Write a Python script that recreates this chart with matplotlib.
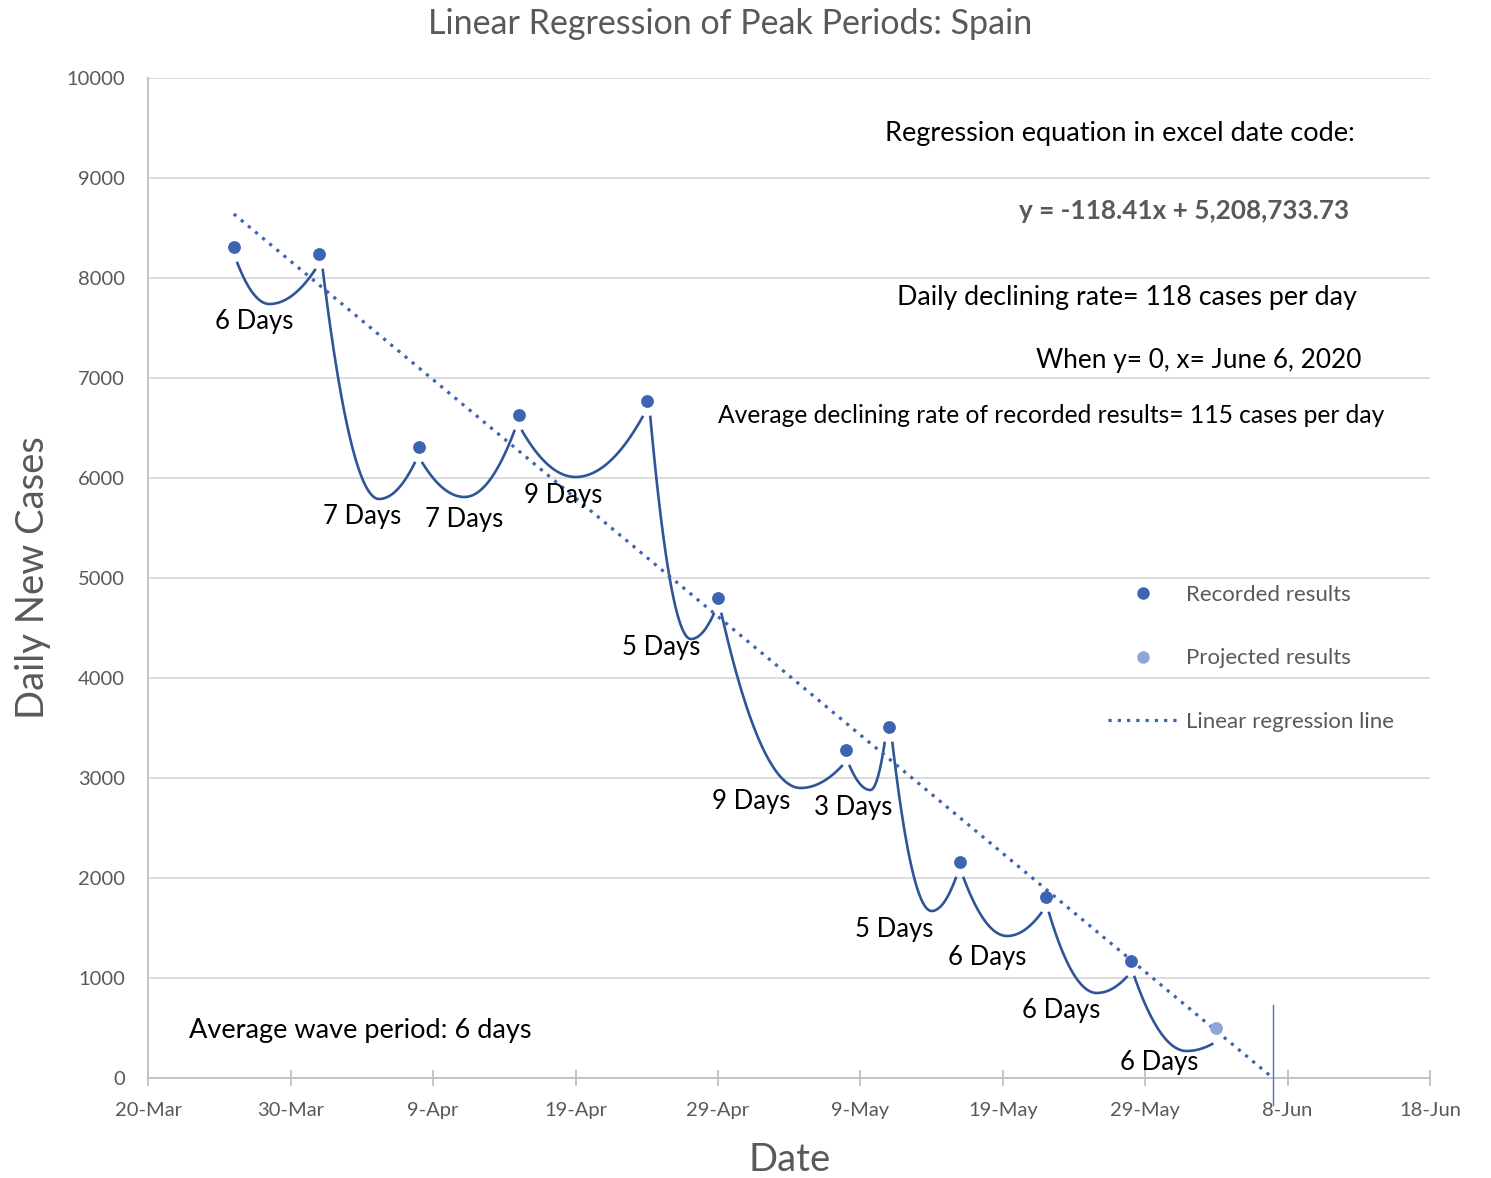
import matplotlib
matplotlib.use("Agg")
import matplotlib.pyplot as plt
import matplotlib.dates as mdates
from matplotlib.lines import Line2D
import numpy as np
from datetime import datetime, timedelta

plt.rcParams['font.family'] = ['Lato', 'DejaVu Sans']

# peak dates and daily new cases (last one is the projected point)
peak_dates = ['2020-03-26', '2020-04-01', '2020-04-08', '2020-04-15', '2020-04-24', '2020-04-29',
              '2020-05-08', '2020-05-11', '2020-05-16', '2020-05-22', '2020-05-28', '2020-06-03']
peak_cases = [8310, 8240, 6310, 6630, 6770, 4800, 3280, 3510, 2160, 1810, 1170, 500]
projected = [False] * 11 + [True]

# wave troughs between peaks: days after the previous peak, and value
trough_offset = [2.5, 4.2, 3.2, 4.0, 3.1, 5.8, 1.7, 3.0, 3.3, 3.6, 3.9]
trough_cases = [7740, 5790, 5810, 6010, 4390, 2900, 2880, 1670, 1420, 850, 270]
wave_labels = ['6 Days', '7 Days', '7 Days', '9 Days', '5 Days', '9 Days',
               '3 Days', '5 Days', '6 Days', '6 Days', '6 Days']
# label centres: days after 20-Mar, value
label_day = [7.4, 15.0, 22.2, 29.1, 36.0, 42.3, 49.5, 52.4, 58.9, 64.1, 71.0]
label_val = [7560, 5610, 5580, 5820, 4300, 2760, 2700, 1480, 1200, 670, 150]

# regression in excel date code
slope = -118.41
intercept = 5208733.73
excel_offset = 25569  # excel serial minus matplotlib date number

start = datetime(2020, 3, 20)
tick_dates = [start + timedelta(days=10 * k) for k in range(10)]

x_peaks = np.array([mdates.datestr2num(d) for d in peak_dates])
y_peaks = np.array(peak_cases)
x0 = mdates.date2num(start)

blue = '#3C64B1'
light_blue = '#8FA6DA'
curve_col = '#2F5597'
grey_txt = '#595959'

fig = plt.figure(figsize=(14.91, 11.78), dpi=100)
ax = fig.add_axes([0.0995, 0.0849, 0.8596, 0.8489])

# wave curves between peaks
for i in range(len(trough_offset)):
    xs, ys = x_peaks[i] + 0.25, y_peaks[i] - 160
    xe, ye = x_peaks[i + 1] - 0.3, y_peaks[i + 1] - 160
    xt, yt = x_peaks[i] + trough_offset[i], trough_cases[i]
    xl = np.linspace(xs, xt, 40)
    xr = np.linspace(xt, xe, 40)
    yl = yt + (ys - yt) * ((xl - xt) / (xs - xt)) ** 2
    yr = yt + (ye - yt) * ((xr - xt) / (xe - xt)) ** 2
    ax.plot(np.concatenate([xl, xr]), np.concatenate([yl, yr]), color=curve_col, lw=1.9, zorder=3)
    ax.text(x0 + label_day[i], label_val[i], wave_labels[i], fontsize=18.5, ha='center', va='center',
            color='black', zorder=5)

# regression line until it hits zero
x_zero = -intercept / slope - excel_offset
xr_line = np.linspace(x_peaks[0], x_zero, 50)
yr_line = slope * (xr_line + excel_offset) + intercept
ax.plot(xr_line, yr_line, color=blue, lw=2.3, ls=(0, (1, 1.9)), zorder=4)
ax.plot([x_zero, x_zero], [730, -270], color='#4472C4', lw=1.0, clip_on=False, zorder=4)

rec = ~np.array(projected)
ax.scatter(x_peaks[rec], y_peaks[rec], s=85, color=blue, zorder=6, linewidths=0)
ax.scatter(x_peaks[~rec], y_peaks[~rec], s=85, color=light_blue, zorder=6, linewidths=0)

# axes styling
ax.set_xlim(x0, mdates.date2num(tick_dates[-1]))
ax.set_ylim(0, 10000)
ax.set_yticks(np.arange(0, 10001, 1000))
ax.set_xticks([mdates.date2num(d) for d in tick_dates])
ax.set_xticklabels([f"{d.day}-{d.strftime('%b')}" for d in tick_dates])
ax.grid(axis='y', color='#D9D9D9', lw=1.3)
ax.set_axisbelow(True)
for s in ['top', 'right']:
    ax.spines[s].set_visible(False)
ax.spines['left'].set_color('#BFBFBF')
ax.spines['bottom'].set_color('#BFBFBF')
ax.spines['left'].set_linewidth(1.3)
ax.spines['bottom'].set_linewidth(1.3)
ax.tick_params(axis='y', length=0, pad=17, labelsize=14.5, labelcolor=grey_txt)
ax.tick_params(axis='x', direction='inout', length=11, width=1.3, color='#BFBFBF', pad=12,
               labelsize=14.5, labelcolor=grey_txt)
ax.set_xlabel('Date', fontsize=27.5, color=grey_txt, labelpad=16)
ax.set_ylabel('Daily New Cases', fontsize=27.5, color=grey_txt, labelpad=11)

fig.text(0.49, 0.980, 'Linear Regression of Peak Periods: Spain', fontsize=24.5, color=grey_txt,
         ha='center', va='center')

# text notes
ax.text(0.9415, 0.944, 'Regression equation in excel date code:', transform=ax.transAxes,
        fontsize=19.5, ha='right', va='center')
ax.text(0.9368, 0.867, 'y = -118.41x + 5,208,733.73', transform=ax.transAxes,
        fontsize=18.8, ha='right', va='center', fontweight='bold', color=grey_txt)
ax.text(0.9430, 0.780, 'Daily declining rate= 118 cases per day', transform=ax.transAxes,
        fontsize=19.3, ha='right', va='center')
ax.text(0.9462, 0.717, 'When y= 0, x= June 6, 2020', transform=ax.transAxes,
        fontsize=18.9, ha='right', va='center')
ax.text(0.964, 0.662, 'Average declining rate of recorded results= 115 cases per day',
        transform=ax.transAxes, fontsize=17.7, ha='right', va='center')
ax.text(0.0318, 0.047, 'Average wave period: 6 days', transform=ax.transAxes,
        fontsize=19.5, ha='left', va='center')

handles = [Line2D([], [], ls='none', marker='o', ms=9, color=blue, mew=0),
           Line2D([], [], ls='none', marker='o', ms=9, color=light_blue, mew=0),
           Line2D([], [], color=blue, lw=2.3, ls=(0, (1, 1.9)))]
leg = ax.legend(handles, ['Recorded results', 'Projected results', 'Linear regression line'],
                loc='upper left', bbox_to_anchor=(0.749, 0.493), frameon=False, fontsize=16,
                handlelength=3.1, handletextpad=0.4, labelspacing=1.95, borderpad=0,
                borderaxespad=0)
for t in leg.get_texts():
    t.set_color(grey_txt)

fig.savefig('out.png', dpi=100)
